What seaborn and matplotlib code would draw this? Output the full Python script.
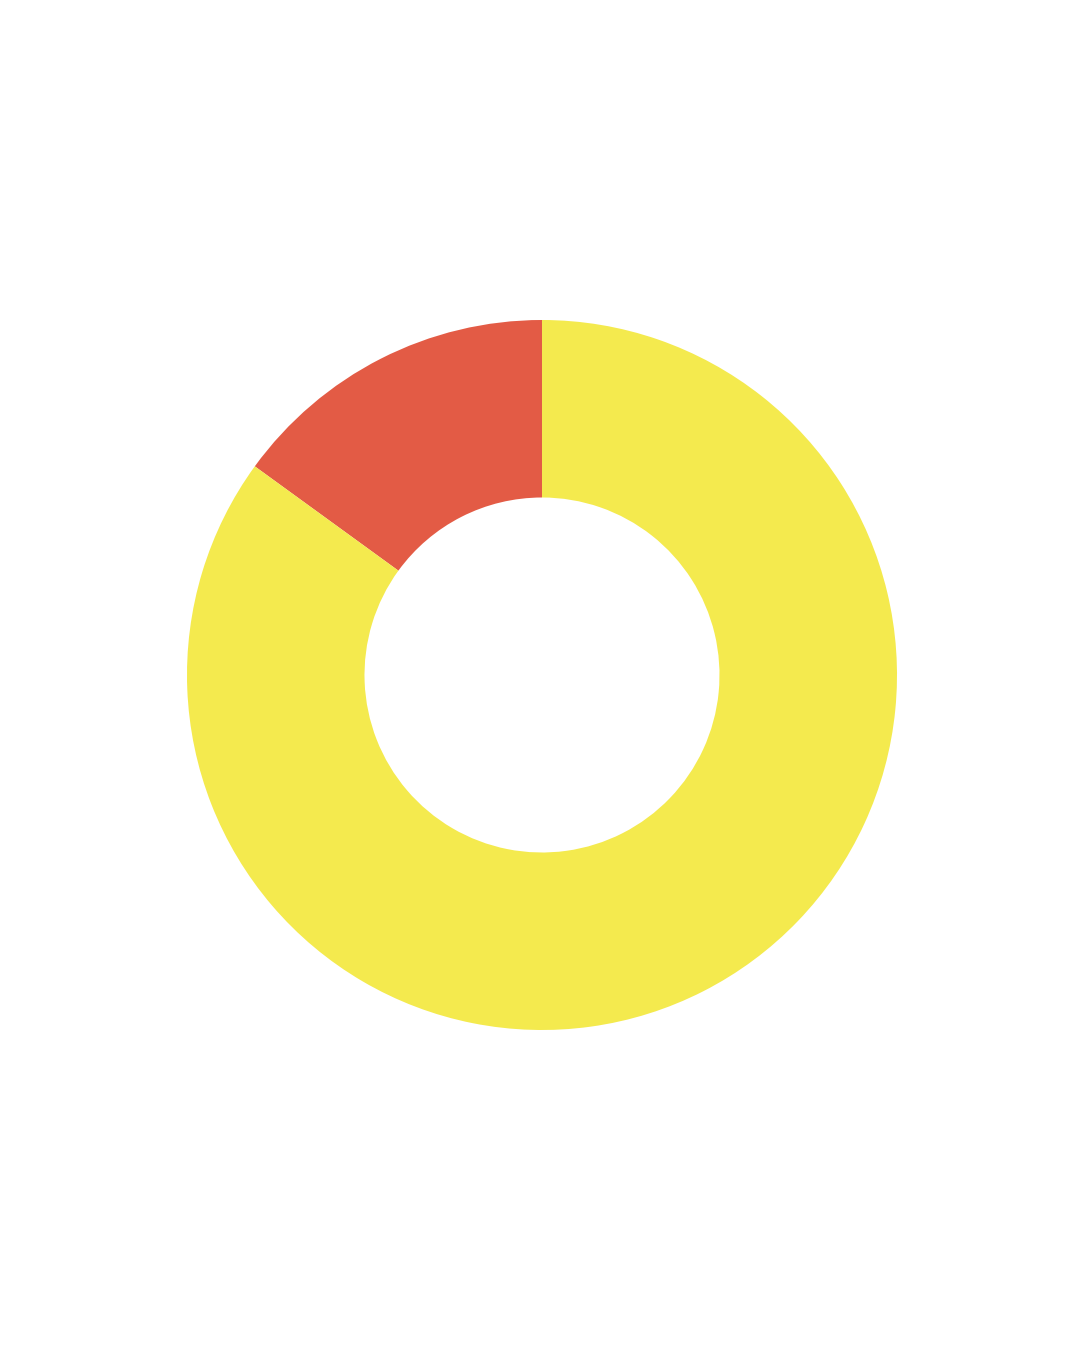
import matplotlib
matplotlib.use("Agg")
import matplotlib.pyplot as plt
import seaborn as sns

# data
labels = ["Red", "Yellow"]
values = [15, 85]
colors = ["#E35B45", "#F4EA4E"]

sns.set_theme(style="white")

fig = plt.figure(figsize=(10.8, 13.5), dpi=100)
ax = fig.add_axes([0, 0, 1, 1])
ax.pie(values, colors=colors, startangle=90, counterclock=True,
       radius=1.0, wedgeprops=dict(width=0.5, edgecolor="none"))

# place the donut: outer radius ~355 px, centre at (542, 675)
r_px = 355
ax.set_xlim(-542 / r_px, (1080 - 542) / r_px)
ax.set_ylim(-675 / r_px, (1350 - 675) / r_px)
ax.set_aspect("auto")
ax.axis("off")

plt.savefig("out.png", dpi=100, facecolor="white")
